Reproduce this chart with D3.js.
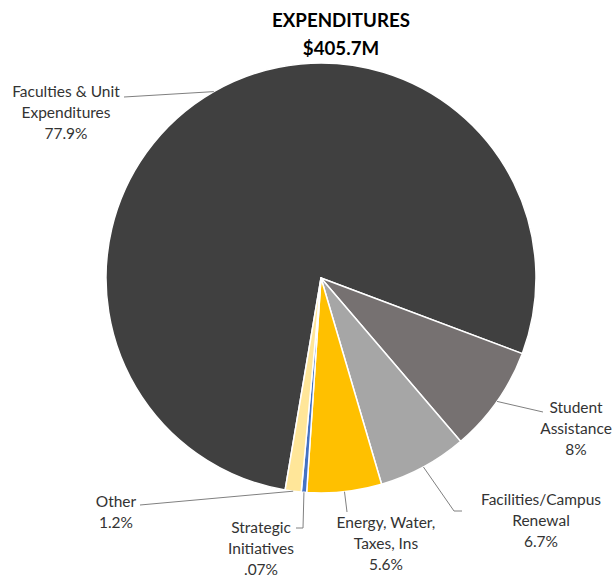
<!DOCTYPE html>
<html>
<head>
<meta charset="utf-8">
<script src="https://cdn.jsdelivr.net/npm/d3@7"></script>
<style>
  html, body { margin: 0; padding: 0; background: #ffffff; }
  svg { display: block; }
  text { font-family: Lato, "Open Sans", sans-serif; }
</style>
</head>
<body>
<svg id="chart" width="613" height="577"></svg>
<script>
// ---- data ----
const titleLines = ["EXPENDITURES", "$405.7M"];
const categories = [
  "Faculties & Unit Expenditures",
  "Student Assistance",
  "Facilities/Campus Renewal",
  "Energy, Water, Taxes, Ins",
  "Strategic Initiatives",
  "Other"
];
const values = [77.9, 8, 6.7, 5.6, 0.4, 1.2];
const percentLabels = ["77.9%", "8%", "6.7%", "5.6%", ".07%", "1.2%"];
const labelLines = [
  ["Faculties & Unit", "Expenditures"],
  ["Student", "Assistance"],
  ["Facilities/Campus", "Renewal"],
  ["Energy, Water,", "Taxes, Ins"],
  ["Strategic", "Initiatives"],
  ["Other"]
];
const sliceColors = ["#404040", "#767171", "#a6a6a6", "#ffc000", "#4472c4", "#ffe699"];

// ---- layout (label placement) ----
const cx = 321, cy = 278, radius = 215;
const startDeg = 189.6;
const lineH = 21;
const labelLayout = {
  "Faculties & Unit Expenditures": { x: 66, y: 97, leader: [[124, 97]] },
  "Student Assistance": { x: 576, y: 413, leader: [[543, 412]] },
  "Facilities/Campus Renewal": { x: 541, y: 505, leader: [[454, 511], [462, 511]] },
  "Energy, Water, Taxes, Ins": { x: 386, y: 528, leader: [[347, 512]] },
  "Strategic Initiatives": { x: 261, y: 533, leader: [[303, 528], [296, 528]] },
  "Other": { x: 116, y: 507, leader: [[140, 505]] }
};

const svg = d3.select("#chart");

// title
svg.selectAll("text.title")
  .data(titleLines)
  .enter().append("text")
  .attr("class", "title")
  .attr("x", 341)
  .attr("y", (d, i) => 27 + i * 28)
  .attr("text-anchor", "middle")
  .attr("font-weight", "bold")
  .attr("font-size", 18.7)
  .attr("fill", "#000")
  .text(d => d);

const toRad = d => d * Math.PI / 180;
const pie = d3.pie()
  .sort(null)
  .value(d => d.value)
  .startAngle(toRad(startDeg))
  .endAngle(toRad(startDeg) + 2 * Math.PI);

const data = categories.map((c, i) => ({
  name: c, value: values[i], color: sliceColors[i],
  pct: percentLabels[i], lines: labelLines[i]
}));
const arcs = pie(data);
const arc = d3.arc().innerRadius(0).outerRadius(radius);

const g = svg.append("g").attr("transform", `translate(${cx},${cy})`);
g.selectAll("path.slice")
  .data(arcs)
  .enter().append("path")
  .attr("class", "slice")
  .attr("d", arc)
  .attr("fill", d => d.data.color)
  .attr("stroke", "#ffffff")
  .attr("stroke-width", 1.5)
  .attr("stroke-linejoin", "round");

// leader lines
arcs.forEach(a => {
  const mid = (a.startAngle + a.endAngle) / 2;
  const sx = cx + radius * Math.sin(mid);
  const sy = cy - radius * Math.cos(mid);
  const lay = labelLayout[a.data.name];
  const pts = [[sx, sy]].concat(lay.leader);
  svg.append("path")
    .attr("d", d3.line()(pts))
    .attr("fill", "none")
    .attr("stroke", "#808080")
    .attr("stroke-width", 1);

  const lines = a.data.lines.concat([a.data.pct]);
  svg.append("g").selectAll("text")
    .data(lines)
    .enter().append("text")
    .attr("x", lay.x)
    .attr("y", (d, i) => lay.y + i * lineH)
    .attr("text-anchor", "middle")
    .attr("font-size", 15.5)
    .attr("fill", "#333333")
    .text(d => d);
});
</script>
</body>
</html>
